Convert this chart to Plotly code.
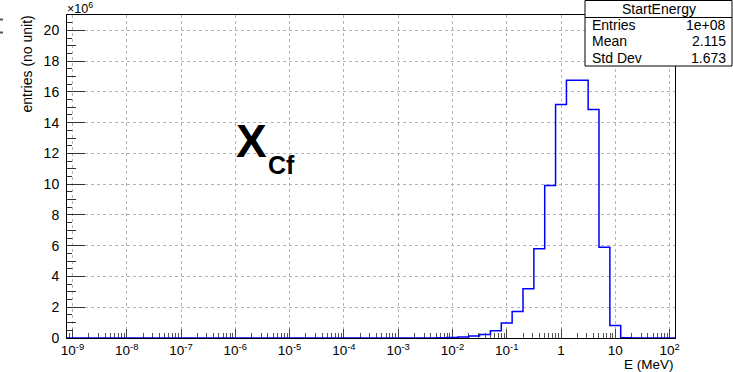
import numpy as np
import plotly.graph_objects as go

# Histogram "StartEnergy": 56 logarithmic bins, 5 per decade, lower edge 10^-9.1
bin_low_exp = -9.1
bin_width_dex = 0.2
counts_millions = [
    0, 0, 0, 0, 0, 0, 0, 0, 0, 0,            # 1e-9 .. 1e-7
    0, 0, 0, 0, 0, 0, 0, 0, 0, 0,            # 1e-7 .. 1e-5
    0, 0, 0, 0, 0, 0, 0, 0, 0, 0,            # 1e-5 .. 1e-3
    0, 0, 0, 0.008, 0.015, 0.03, 0.06, 0.13, 0.23, 0.47,
    0.98, 1.73, 3.21, 5.81, 9.91, 15.18, 16.76, 16.76, 14.85, 5.90,
    0.82, 0.02, 0, 0, 0, 0,
]

stats_rows = [("Entries", "1e+08"), ("Mean", "2.115"), ("Std Dev", "1.673")]
x_tick_exps = list(range(-9, 3))
x_tick_text = ["10<sup>%d</sup>" % e for e in range(-9, 0)] + ["1", "10", "10<sup>2</sup>"]
y_tick_vals = [v * 1e6 for v in range(0, 21, 2)]
y_tick_text = [str(v) for v in range(0, 21, 2)]

n_bins = len(counts_millions)
edges = 10 ** (bin_low_exp + bin_width_dex * np.arange(n_bins + 1))
counts = np.array(counts_millions) * 1e6
step_y = np.append(counts, counts[-1])

FONT = "Liberation Sans, Arial, Helvetica, sans-serif"

# frame of the plot area in pixels
W, H = 733, 372
L, R, T, B = 67, 675, 15, 338


def px(x):
    return (x - L) / (R - L)


def py(y):
    return (B - y) / (B - T)


fig = go.Figure()
fig.add_trace(go.Scatter(
    x=edges, y=step_y, mode="lines", line_shape="hv",
    line=dict(color="#0000ff", width=1.5), cliponaxis=False,
    showlegend=False, hoverinfo="skip",
))
# medium-length y ticks at odd millions
fig.add_trace(go.Scatter(x=[1e-5], y=[0], yaxis="y2", mode="markers",
                         marker=dict(opacity=0), showlegend=False, hoverinfo="skip"))

minor_x = [m * 10.0 ** e for e in range(-10, 3) for m in range(2, 10)]
minor_x = [v for v in minor_x if 10 ** -9.1 < v < 10 ** 2.1]

fig.update_layout(
    width=W, height=H,
    margin=dict(l=L, r=W - R, t=T, b=H - B, pad=0),
    paper_bgcolor="white", plot_bgcolor="white",
    font=dict(family=FONT, size=12, color="black"),
    xaxis=dict(
        type="log", range=[bin_low_exp, bin_low_exp + bin_width_dex * n_bins],
        tickmode="array", tickvals=[10.0 ** e for e in x_tick_exps], ticktext=x_tick_text,
        ticks="inside", ticklen=9, tickcolor="#444", tickwidth=1,
        showgrid=True, gridcolor="#b4b4b4", griddash="dot", gridwidth=1,
        showline=True, linecolor="black", linewidth=1, mirror=True,
        minor=dict(tickmode="array", tickvals=minor_x, ticks="inside", ticklen=5,
                   tickcolor="#555", showgrid=False),
        tickfont=dict(size=13.5), zeroline=False, layer="below traces",
    ),
    yaxis=dict(
        range=[0, 21e6], tickmode="array", tickvals=y_tick_vals, ticktext=y_tick_text,
        ticks="inside", ticklen=18, tickcolor="#333", tickwidth=1,
        showgrid=True, gridcolor="#b4b4b4", griddash="dot", gridwidth=1,
        showline=True, linecolor="black", linewidth=1, mirror=True,
        minor=dict(dtick=0.5e6, tick0=0, ticks="inside", ticklen=5,
                   tickcolor="#333", showgrid=False),
        tickfont=dict(size=14), zeroline=False, ticklabelstandoff=4,
    ),
    yaxis2=dict(
        overlaying="y", side="left", range=[0, 21e6], tickmode="array",
        tickvals=[v * 1e6 for v in range(1, 21, 2)], ticks="inside", ticklen=9,
        tickcolor="#333", showticklabels=False, showgrid=False, zeroline=False,
        showline=False,
    ),
)

ann = []
# y axis title, top-aligned as in ROOT
ann.append(dict(x=px(27), y=py(14), xref="paper", yref="paper", text="entries (no unit)",
                textangle=-90, showarrow=False, xanchor="center", yanchor="top",
                font=dict(size=14)))
ann.append(dict(x=px(65), y=py(8), xref="paper", yref="paper", text="×10<sup>6</sup>",
                showarrow=False, xanchor="left", yanchor="middle", font=dict(size=12.5)))
ann.append(dict(x=px(676), y=py(364), xref="paper", yref="paper", text="E (MeV)",
                showarrow=False, xanchor="right", yanchor="middle", font=dict(size=13.5)))
# X_Cf label
ann.append(dict(x=px(251), y=py(141), xref="paper", yref="paper", text="<b>X</b>",
                showarrow=False, xanchor="center", yanchor="middle",
                font=dict(size=46, family="Liberation Sans, Arial, sans-serif")))
ann.append(dict(x=px(266), y=py(165), xref="paper", yref="paper", text="<b>Cf</b>",
                showarrow=False, xanchor="left", yanchor="middle",
                font=dict(size=25, family="Liberation Sans, Arial, sans-serif")))

# statistics box
box_l, box_r, box_t, box_b, head_b = 585, 732, 0.5, 66, 17.5
shapes = [
    dict(type="rect", xref="paper", yref="paper", x0=px(box_l), x1=px(box_r),
         y0=py(box_b), y1=py(box_t), line=dict(color="black", width=1), fillcolor="white",
         layer="above"),
    dict(type="line", xref="paper", yref="paper", x0=px(box_l), x1=px(box_r),
         y0=py(head_b), y1=py(head_b), line=dict(color="black", width=1), layer="above"),
    dict(type="rect", xref="paper", yref="paper", x0=px(0), x1=px(3), y0=py(18.5), y1=py(20.5),
         line=dict(width=0), fillcolor="#555"),
    dict(type="rect", xref="paper", yref="paper", x0=px(0), x1=px(3), y0=py(31.5), y1=py(33.5),
         line=dict(width=0), fillcolor="#555"),
]
ann.append(dict(x=px((box_l + box_r) / 2), y=py(9), xref="paper", yref="paper",
                text="StartEnergy", showarrow=False, xanchor="center", yanchor="middle",
                font=dict(size=14)))
for i, (name, val) in enumerate(stats_rows):
    yy = py(25 + 16.5 * i)
    ann.append(dict(x=px(590), y=yy, xref="paper", yref="paper", text=name,
                    showarrow=False, xanchor="left", yanchor="middle", font=dict(size=14)))
    ann.append(dict(x=px(728), y=yy, xref="paper", yref="paper", text=val,
                    showarrow=False, xanchor="right", yanchor="middle", font=dict(size=14)))

fig.update_layout(annotations=ann, shapes=shapes)
fig.write_html("out.html")
